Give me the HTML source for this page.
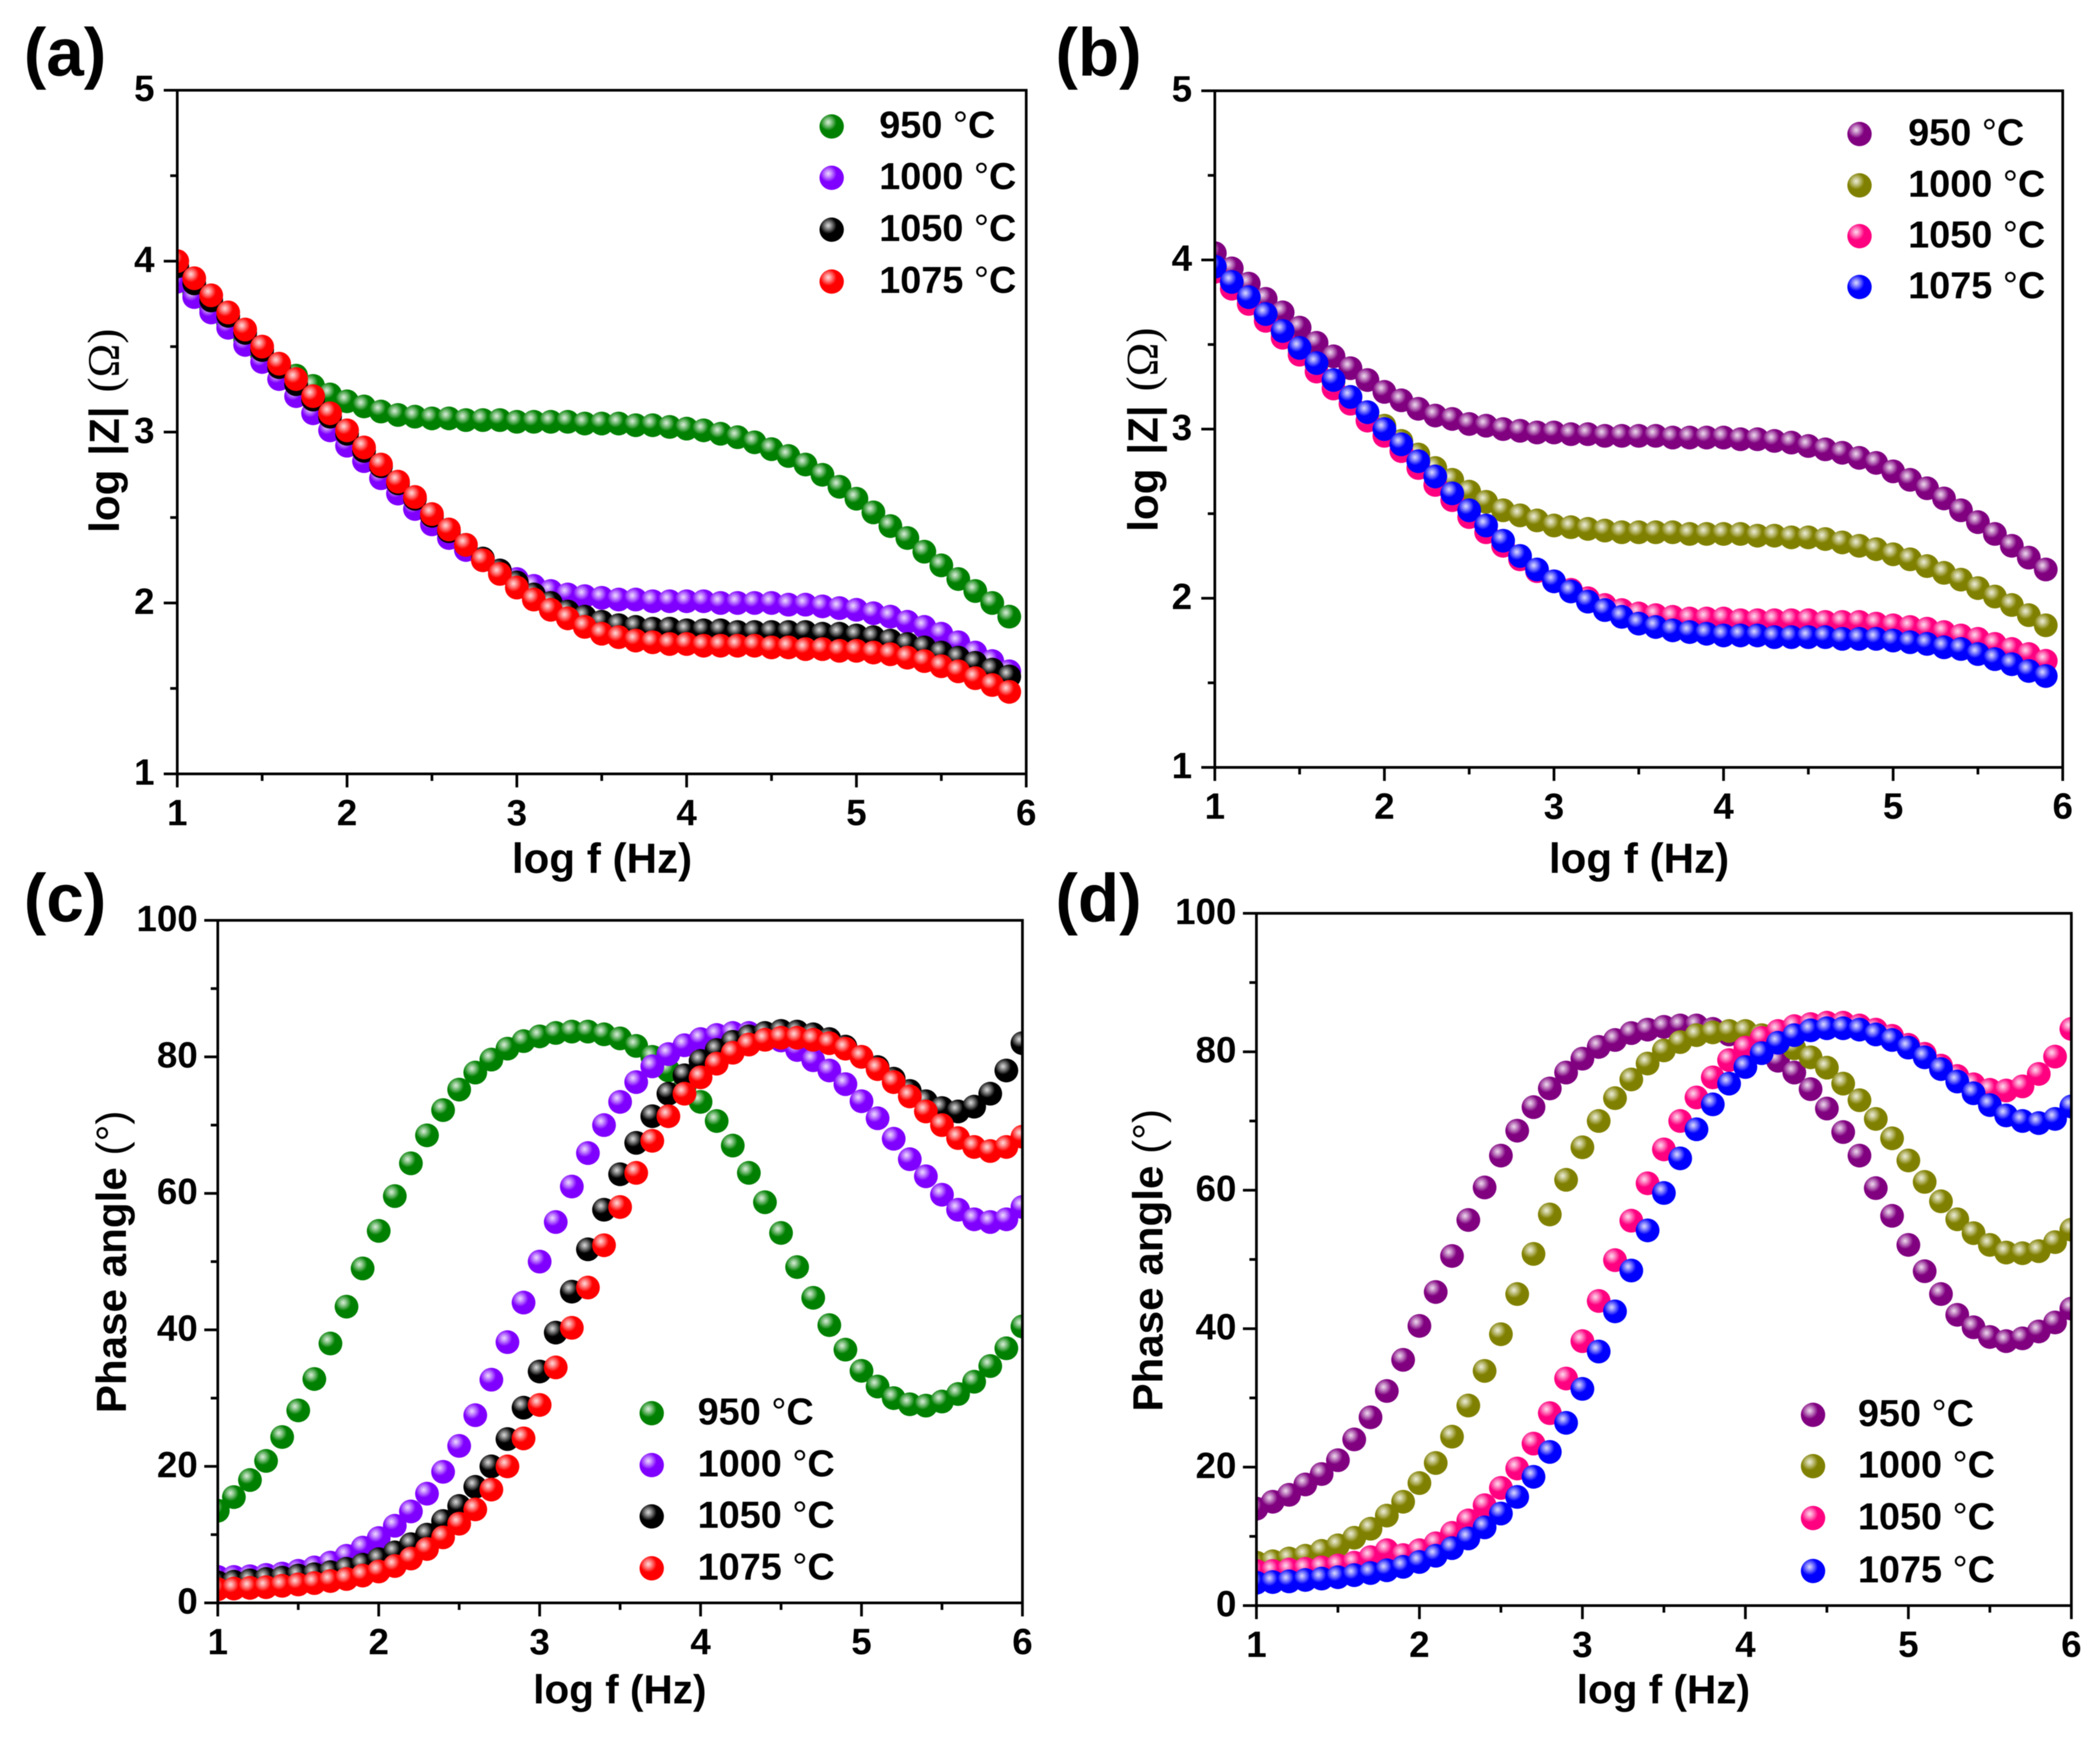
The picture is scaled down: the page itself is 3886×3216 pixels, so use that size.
<!DOCTYPE html>
<html lang="en">
<head>
<meta charset="utf-8">
<title>Impedance and phase angle plots</title>
<style>
html,body{margin:0;padding:0;background:#fff;width:3886px;height:3216px;overflow:hidden}
svg{display:block;filter:blur(0.8px)}
text{font-family:"Liberation Sans",Arial,sans-serif;font-weight:bold;fill:#000}
.tick{font-size:68px}
.title{font-size:78px}
.title-small{font-size:75px}
.panel{font-size:125px}
.legend{font-size:70px}
.thin{font-weight:normal}
.serif{font-family:"Liberation Serif","Times New Roman",serif;font-weight:normal;font-size:84px}
</style>
</head>
<body>
<svg id="figure" xmlns="http://www.w3.org/2000/svg" width="3886" height="3216" viewBox="0 0 3886 3216">
  <rect x="0" y="0" width="3886" height="3216" fill="#fff"/>
  <defs id="defs"></defs>

  <text class="panel" x="44" y="140">(a)</text>
  <text class="panel" x="1953" y="140">(b)</text>
  <text class="panel" x="44" y="1705">(c)</text>
  <text class="panel" x="1953" y="1705">(d)</text>

  <text class="title" x="1114" y="1615" text-anchor="middle">log f (Hz)</text>
  <text class="title" x="3033" y="1615" text-anchor="middle">log f (Hz)</text>
  <text class="title-small" x="1147" y="3152" text-anchor="middle">log f (Hz)</text>
  <text class="title-small" x="3078" y="3152" text-anchor="middle">log f (Hz)</text>

  <text class="title" text-anchor="middle" word-spacing="4" transform="translate(220 797) rotate(-90)">log |Z| <tspan class="serif">(Ω)</tspan></text>
  <text class="title" text-anchor="middle" word-spacing="4" transform="translate(2142 795) rotate(-90)">log |Z| <tspan class="serif">(Ω)</tspan></text>
  <text class="title" text-anchor="middle" transform="translate(233 2335) rotate(-90)">Phase angle <tspan class="thin">(°)</tspan></text>
  <text class="title" text-anchor="middle" transform="translate(2151 2332) rotate(-90)">Phase angle <tspan class="thin">(°)</tspan></text>
</svg>

<script>
/* ---------- shared data ---------- */
const legendTemps = ["950", "1000", "1050", "1075"];
const xTickLabels = [1, 2, 3, 4, 5, 6];
const xMinorTicks = [1.5, 2.5, 3.5, 4.5, 5.5];
const zTickLabels = [1, 2, 3, 4, 5];
const zMinorTicks = [1.5, 2.5, 3.5, 4.5];
const phaseTickLabels = [0, 20, 40, 60, 80, 100];
const phaseMinorTicks = [10, 30, 50, 70, 90];

const logFreqZ = [
  1.0,1.1,1.2,1.3,1.4,1.5,1.6,1.7,1.8,1.9,
  2.0,2.1,2.2,2.3,2.4,2.5,2.6,2.7,2.8,2.9,
  3.0,3.1,3.2,3.3,3.4,3.5,3.6,3.7,3.8,3.9,
  4.0,4.1,4.2,4.3,4.4,4.5,4.6,4.7,4.8,4.9,
  5.0,5.1,5.2,5.3,5.4,5.5,5.6,5.7,5.8,5.9];
const logFreqPhase = [
  1.0,1.1,1.2,1.3,1.4,1.5,1.6,1.7,1.8,1.9,
  2.0,2.1,2.2,2.3,2.4,2.5,2.6,2.7,2.8,2.9,
  3.0,3.1,3.2,3.3,3.4,3.5,3.6,3.7,3.8,3.9,
  4.0,4.1,4.2,4.3,4.4,4.5,4.6,4.7,4.8,4.9,
  5.0,5.1,5.2,5.3,5.4,5.5,5.6,5.7,5.8,5.9,6.0];

/* ---------- panel (a) log|Z| ---------- */
const a950 = [
  3.90,3.81,3.72,3.63,3.54,3.45,3.38,3.33,3.27,3.22,
  3.18,3.15,3.12,3.10,3.09,3.08,3.08,3.07,3.07,3.07,
  3.06,3.06,3.06,3.06,3.05,3.05,3.05,3.04,3.04,3.03,
  3.02,3.01,2.99,2.97,2.94,2.90,2.86,2.81,2.75,2.68,
  2.61,2.53,2.45,2.38,2.30,2.22,2.14,2.07,2.00,1.92];
const a1000 = [
  3.88,3.79,3.70,3.61,3.51,3.41,3.31,3.21,3.11,3.01,
  2.92,2.83,2.73,2.64,2.55,2.46,2.38,2.31,2.25,2.19,
  2.14,2.10,2.07,2.05,2.04,2.03,2.02,2.02,2.01,2.01,
  2.01,2.01,2.00,2.00,2.00,2.00,1.99,1.99,1.98,1.97,
  1.96,1.94,1.92,1.89,1.86,1.82,1.77,1.71,1.66,1.60];
const a1050 = [
  3.97,3.87,3.77,3.68,3.58,3.48,3.38,3.28,3.19,3.09,
  2.99,2.89,2.80,2.70,2.61,2.51,2.42,2.34,2.26,2.19,
  2.12,2.05,2.00,1.95,1.92,1.89,1.87,1.86,1.85,1.85,
  1.84,1.84,1.84,1.83,1.83,1.83,1.83,1.83,1.82,1.82,
  1.81,1.80,1.78,1.76,1.74,1.71,1.68,1.65,1.61,1.57];
const a1075 = [
  4.00,3.90,3.80,3.70,3.60,3.50,3.40,3.31,3.21,3.11,
  3.01,2.91,2.81,2.71,2.62,2.52,2.43,2.34,2.25,2.17,
  2.09,2.02,1.96,1.91,1.86,1.82,1.80,1.78,1.77,1.76,
  1.76,1.75,1.75,1.75,1.75,1.74,1.74,1.73,1.73,1.72,
  1.72,1.71,1.70,1.68,1.66,1.63,1.60,1.56,1.52,1.48];

/* ---------- panel (b) log|Z| ---------- */
const b950 = [
  4.04,3.95,3.86,3.77,3.69,3.60,3.51,3.43,3.36,3.29,
  3.22,3.17,3.12,3.08,3.06,3.03,3.02,3.00,2.99,2.98,
  2.98,2.97,2.97,2.96,2.96,2.96,2.96,2.95,2.95,2.95,
  2.95,2.94,2.94,2.93,2.92,2.90,2.88,2.86,2.83,2.80,
  2.75,2.70,2.65,2.59,2.52,2.45,2.38,2.31,2.24,2.17];
const b1000 = [
  3.95,3.86,3.77,3.67,3.57,3.47,3.38,3.28,3.19,3.10,
  3.02,2.93,2.85,2.77,2.70,2.63,2.57,2.52,2.49,2.46,
  2.43,2.42,2.41,2.40,2.39,2.39,2.39,2.39,2.38,2.38,
  2.38,2.38,2.37,2.37,2.36,2.36,2.35,2.33,2.31,2.29,
  2.26,2.23,2.19,2.15,2.11,2.06,2.01,1.96,1.90,1.84];
const b1050 = [
  3.93,3.83,3.74,3.64,3.54,3.44,3.34,3.24,3.15,3.05,
  2.96,2.87,2.77,2.67,2.58,2.48,2.39,2.31,2.23,2.16,
  2.10,2.05,2.00,1.96,1.93,1.91,1.90,1.89,1.88,1.88,
  1.88,1.87,1.87,1.87,1.87,1.87,1.86,1.86,1.86,1.85,
  1.84,1.83,1.82,1.80,1.78,1.76,1.73,1.70,1.67,1.63];
const b1075 = [
  3.96,3.87,3.78,3.68,3.58,3.48,3.39,3.29,3.19,3.10,
  3.00,2.91,2.81,2.72,2.62,2.52,2.43,2.34,2.25,2.17,
  2.10,2.04,1.98,1.93,1.89,1.85,1.83,1.81,1.80,1.79,
  1.78,1.78,1.78,1.77,1.77,1.77,1.77,1.76,1.76,1.76,
  1.75,1.74,1.73,1.71,1.70,1.67,1.64,1.61,1.57,1.54];

/* ---------- panel (c) phase ---------- */
const c950 = [
  13.5,15.5,18,20.8,24.3,28.2,32.8,38,43.4,49,
  54.5,59.6,64.4,68.5,72.2,75.2,77.7,79.6,81.2,82.3,
  83,83.5,83.7,83.7,83.3,82.7,81.6,80,78,75.5,
  73.4,70.6,67,63,58.7,54.2,49.2,44.7,40.7,37.1,
  34,31.7,30,29.1,28.9,29.5,30.6,32.4,34.7,37.3,40.5];
const c1000 = [
  3.8,3.8,3.9,4.1,4.3,4.7,5.2,5.9,6.9,8.1,
  9.5,11.3,13.4,16,19.2,23,27.5,32.7,38.2,44,
  50,55.8,61,65.9,70,73.4,76.3,78.6,80.4,81.7,
  82.6,83.2,83.5,83.5,83,82.4,81,79.5,78,76,
  73.5,71,68,65,62.5,59.8,57.6,56.2,55.8,56.2,58];
const c1050 = [
  3,3.1,3.3,3.5,3.7,4,4.2,4.5,5,5.6,
  6.4,7.4,8.6,10,12,14.2,17,20,24,28.6,
  33.9,39.6,45.6,51.8,57.6,62.8,67.4,71.3,74.6,77.3,
  79.4,81,82.2,83,83.5,83.8,83.7,83.3,82.6,81.5,
  80,78.5,76.8,75,73.5,72.5,72,72.7,74.6,78,82];
const c1075 = [
  2,2.1,2.2,2.3,2.5,2.7,2.9,3.2,3.5,4,
  4.6,5.4,6.5,7.9,9.6,11.6,13.7,16.6,20,24.1,
  29,34.5,40.3,46.2,52.4,58,63,67.7,71.3,74.6,
  77,79,80.6,81.8,82.5,82.8,82.8,82.5,82,81.2,
  80,78.2,76.3,74.2,72,70,68.1,66.8,66.2,66.8,68.3];

/* ---------- panel (d) phase ---------- */
const d950 = [
  14,15,16,17.5,19,21,24,27.2,31,35.5,
  40.4,45.3,50.5,55.7,60.4,65,68.6,72,74.7,77,
  79,80.7,81.7,82.7,83.2,83.6,83.8,83.8,83.3,82.5,
  81.5,80.3,78.7,77,74.6,71.8,68.4,65,60.3,56.3,
  52.1,48.3,45,42,40.2,38.8,38.2,38.6,39.6,40.9,42.9];
const d1000 = [
  6.2,6.4,6.8,7.2,7.9,8.7,9.8,11.1,13,15,
  17.7,20.6,24.4,28.9,33.9,39.2,45,50.8,56.5,61.5,
  66.2,70,73.3,76,78.3,80.2,81.4,82.4,82.8,83,
  83,82.4,81.6,80.5,79.2,77.7,75.4,73,70.3,67.5,
  64.3,61.2,58.4,55.8,53.8,52.1,51,50.9,51.2,52.5,54.3];
const d1050 = [
  5,5,5.2,5.3,5.5,5.8,6.2,7,8,7.3,
  8,9,10.5,12.3,14.5,17,19.8,23.4,27.8,32.8,
  38.2,44,49.9,55.6,61,65.9,70,73.4,76.3,78.8,
  80.6,82,83,83.7,84,84.2,84.2,83.8,83.2,82.3,
  81,79.7,78,76.5,75.3,74.5,74.4,75,76.8,79.3,83.3];
const d1075 = [
  3.3,3.4,3.5,3.7,3.9,4.1,4.4,4.7,5.1,5.6,
  6.3,7.2,8.3,9.7,11.3,13.3,15.7,18.6,22.2,26.4,
  31.3,36.7,42.5,48.4,54.2,59.6,64.6,68.8,72.4,75.4,
  77.8,79.8,81.3,82.4,83.1,83.4,83.4,83.2,82.5,81.7,
  80.6,79.2,77.5,75.7,74,72.3,70.8,70,69.7,70.3,72.1];

/* ---------- styling and layout ---------- */
const SVGNS = "http://www.w3.org/2000/svg";
const svg = document.getElementById("figure");
const defs = document.getElementById("defs");
const colorsLeft = [[0,128,0],[128,0,255],[0,0,0],[255,0,0]];
const colorsRight = [[128,0,128],[128,128,0],[255,0,128],[0,0,255]];

const panels = [
  {id:"a", left:328, right:1899, top:167, bottom:1432, xMin:1, xMax:6, yMin:1, yMax:5,
   xs:logFreqZ, series:[a950,a1000,a1050,a1075], colors:colorsLeft,
   yTicks:zTickLabels, yMinor:zMinorTicks, labelGap:42,
   legendX:1539, legendTextX:1627, legendY:[234,329,425,521]},
  {id:"b", left:2248, right:3817, top:168, bottom:1420, xMin:1, xMax:6, yMin:1, yMax:5,
   xs:logFreqZ, series:[b950,b1000,b1050,b1075], colors:colorsRight,
   yTicks:zTickLabels, yMinor:zMinorTicks, labelGap:42,
   legendX:3441, legendTextX:3531, legendY:[248,343,437,531]},
  {id:"c", left:403, right:1892, top:1703, bottom:2966, xMin:1, xMax:6, yMin:0, yMax:100,
   xs:logFreqPhase, series:[c950,c1000,c1050,c1075], colors:colorsLeft,
   yTicks:phaseTickLabels, yMinor:phaseMinorTicks, labelGap:37,
   legendX:1206, legendTextX:1291, legendY:[2615,2711,2806,2902]},
  {id:"d", left:2325, right:3833, top:1690, bottom:2971, xMin:1, xMax:6, yMin:0, yMax:100,
   xs:logFreqPhase, series:[d950,d1000,d1050,d1075], colors:colorsRight,
   yTicks:phaseTickLabels, yMinor:phaseMinorTicks, labelGap:37,
   legendX:3355, legendTextX:3438, legendY:[2618,2713,2809,2907]}
];

function xScale(p, v) { return p.left + (v - p.xMin) / (p.xMax - p.xMin) * (p.right - p.left); }
function yScale(p, v) { return p.bottom - (v - p.yMin) / (p.yMax - p.yMin) * (p.bottom - p.top); }

function make(tag, attrs, parent) {
  const el = document.createElementNS(SVGNS, tag);
  for (const k in attrs) el.setAttribute(k, attrs[k]);
  parent.appendChild(el);
  return el;
}
function mix(rgb, w) {
  return "rgb(" + rgb.map(function (c) { return Math.round(c + (255 - c) * w); }).join(",") + ")";
}
function sphereGradient(rgb) {
  const id = "sphere-" + rgb.join("-");
  if (document.getElementById(id)) return id;
  const g = make("radialGradient", {id:id, cx:"0.36", cy:"0.33", r:"0.34"}, defs);
  make("stop", {offset:"0", "stop-color":mix(rgb, 0.86)}, g);
  make("stop", {offset:"0.35", "stop-color":mix(rgb, 0.58)}, g);
  make("stop", {offset:"1", "stop-color":mix(rgb, 0)}, g);
  return id;
}
function line(parent, x1, y1, x2, y2) {
  return make("line", {x1:x1, y1:y1, x2:x2, y2:y2, stroke:"#000", "stroke-width":5}, parent);
}

panels.forEach(function (p) {
  const chart = make("g", {}, svg);
  
  

  const clip = make("clipPath", {id:"clip-" + p.id}, defs);
  make("rect", {x:p.left, y:p.top, width:p.right - p.left, height:p.bottom - p.top}, clip);

  /* series markers */
  p.series.forEach(function (values, si) {
    const group = make("g", {"clip-path":"url(#clip-" + p.id + ")"}, chart);
    
    
    const grad = sphereGradient(p.colors[si]);
    values.forEach(function (v, i) {
      const dot = make("circle", {cx:xScale(p, p.xs[i]), cy:yScale(p, v), r:22, fill:"url(#" + grad + ")"}, group);
      
      
    });
  });

  /* frame */
  const frame = make("rect", {x:p.left, y:p.top, width:p.right - p.left, height:p.bottom - p.top, fill:"none", stroke:"#000", "stroke-width":5}, chart);
  
  

  /* x axis ticks */
  xTickLabels.forEach(function (t) {
    const x = xScale(p, t);
    const tick = line(chart, x, p.bottom, x, p.bottom + 25);
    
    
    const label = make("text", {class:"tick", x:x, y:p.bottom + 95, "text-anchor":"middle"}, chart);
    label.textContent = t;
    
    
  });
  xMinorTicks.forEach(function (t) {
    const x = xScale(p, t);
    const tick = line(chart, x, p.bottom, x, p.bottom + 13);
    
    
  });

  /* y axis ticks */
  p.yTicks.forEach(function (t) {
    const y = yScale(p, t);
    const tick = line(chart, p.left, y, p.left - 25, y);
    
    
    const label = make("text", {class:"tick", x:p.left - p.labelGap, y:y + 20, "text-anchor":"end"}, chart);
    label.textContent = t;
    
    
  });
  p.yMinor.forEach(function (t) {
    const y = yScale(p, t);
    const tick = line(chart, p.left, y, p.left - 13, y);
    
    
  });

  /* legend */
  const legend = make("g", {}, chart);
  
  
  legendTemps.forEach(function (name, i) {
    const key = make("circle", {cx:p.legendX, cy:p.legendY[i], r:22.5, fill:"url(#" + sphereGradient(p.colors[i]) + ")"}, legend);
    
    
    const label = make("text", {class:"legend", x:p.legendTextX, y:p.legendY[i] + 21}, legend);
    
    
    label.appendChild(document.createTextNode(name + " "));
    const deg = make("tspan", {class:"thin"}, label);
    deg.textContent = "°";
    label.appendChild(document.createTextNode("C"));
  });
});
</script>
</body>
</html>
